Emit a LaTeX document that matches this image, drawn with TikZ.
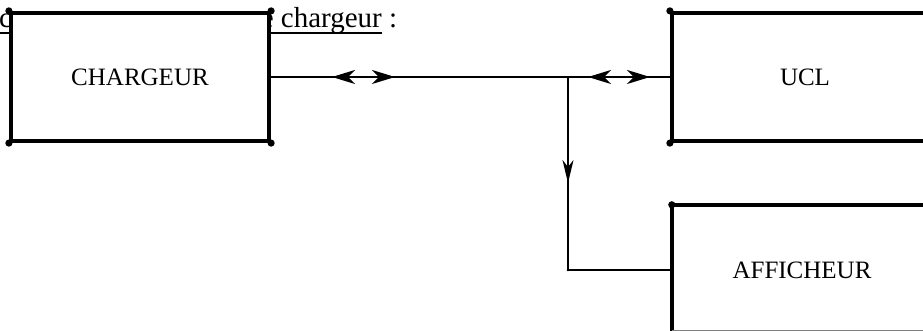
\documentclass[tikz,border=0pt]{standalone}
\usepackage{fontspec}
\setmainfont{Liberation Serif}
\usetikzlibrary{arrows.meta}
\begin{document}
\begin{tikzpicture}[x=1pt,y=1pt,
  bloc/.style={draw, line width=4.2pt, fill=white, inner sep=0pt,
    font=\fontsize{25}{30}\selectfont},
  lien/.style={line width=2pt},
  double/.style={line width=2pt, {Stealth[length=23pt,width=14pt,inset=7pt]}-{Stealth[length=23pt,width=14pt,inset=7pt]}},
  simple/.style={line width=2pt, -{Stealth[length=23pt,width=11pt,inset=7pt]}},
  coin/.style={fill=black}
]
\useasboundingbox (0,0) rectangle (923,331);
% title (mostly hidden by the box)
\node[anchor=base east, inner sep=0pt, font=\fontsize{29}{34}\selectfont] (titre) at (382,303) {c\hspace{236pt}ce chargeur};
\node[anchor=base west, inner sep=0pt, font=\fontsize{29}{34}\selectfont] (deuxpts) at ([xshift=7pt]titre.base east) {:};
\draw[line width=1.6pt] ([yshift=-5pt]titre.base west) -- ([yshift=-5pt]titre.base east);
% blocks
\node[bloc, minimum width=258pt, minimum height=128pt] (ch) at (140,254) {CHARGEUR};
\node[bloc, minimum width=266pt, minimum height=128pt] (ucl) at (805,254) {UCL};
\node[fill=white, inner sep=0pt, minimum width=260pt, minimum height=130pt,
  font=\fontsize{25}{30}\selectfont] (aff) at (802,61) {AFFICHEUR};
\draw[line width=4.2pt] (aff.south west) -- (aff.north west) -- (aff.north east);
\draw[line width=1pt, gray] ([yshift=5pt]aff.south west) -- ([yshift=5pt]aff.south east);
% corner marks
\foreach \c in {ch.north west, ch.north east, ch.south west, ch.south east, ucl.north west, ucl.south west, aff.north west}
  \fill[coin] (\c) circle (3.6pt);
% connectors
\coordinate (j) at (568,254);
\draw[lien] (ch.east) -- (ucl.west);
\draw[lien] (j) -- (j |- aff.west) -- (aff.west);
\fill[coin] (j |- aff.west) circle (1.4pt);
% arrowheads on the lines
\coordinate (a1) at (332,254);
\coordinate (a2) at (395,254);
\coordinate (b1) at (588,254);
\coordinate (b2) at (650,254);
\coordinate (v1) at (568,175);
\coordinate (v2) at (568,148);
\draw[double] (a1) -- (a2);
\draw[double] (b1) -- (b2);
\draw[simple] (v1) -- (v2);
\end{tikzpicture}
\end{document}
